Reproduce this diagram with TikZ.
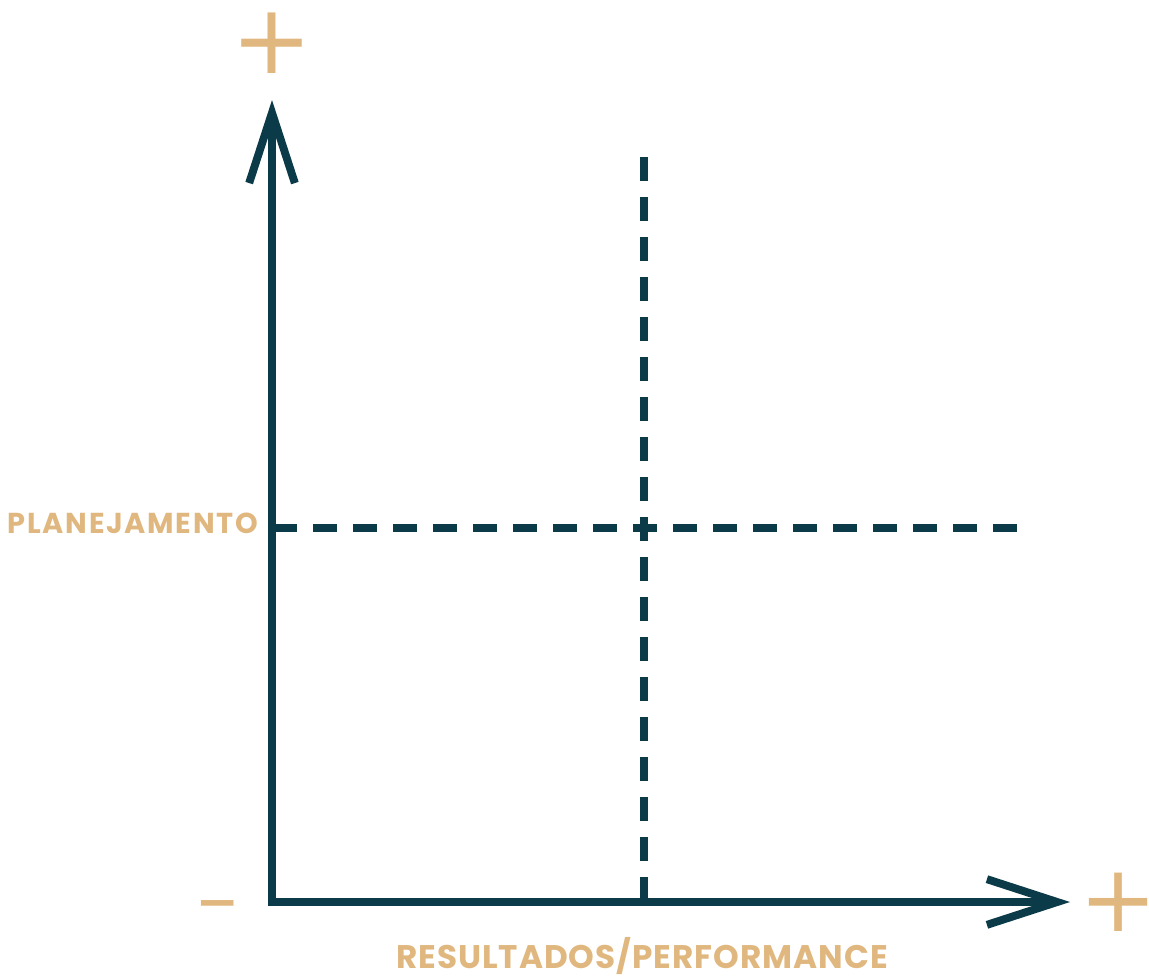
\documentclass[tikz,border=0pt]{standalone}
\usepackage{fontspec}
\setmainfont{Poppins}
\newfontfamily\signfont{DejaVu Sans}
\usetikzlibrary{arrows.meta}
\definecolor{c0b3a48}{RGB}{11,58,72}
\definecolor{ce0b77e}{RGB}{224,183,126}
\tikzset{every path/.style={draw,line width=4.5pt,color=c0b3a48}}
\tikzset{axistip/.tip={Straight Barb[length=40pt,width=26pt,line join=miter,line cap=butt]}}

\begin{document}
\begin{tikzpicture}[x=0.02cm,y=-0.02cm]
\path[draw=none,use as bounding box] (0,0) rectangle (1149,977);

\coordinate (o) at (272,902);
\coordinate (ytip) at (272,100);
\coordinate (xtip) at (1070,902);
\coordinate (vtop) at (644,157);
\coordinate (vbot) at (644,901);
\coordinate (hleft) at (273,528);
\coordinate (hright) at (1017,528);

\begin{scope}[every node/.style={inner sep=0pt,text=ce0b77e}]
\node[font=\signfont\fontsize{55}{55}\selectfont] (yplus) at (272,43) {+};
\node[font=\signfont\fontsize{53}{53}\selectfont] (xplus) at (1118,902) {+};
\node[font=\signfont\fontsize{46}{46}\selectfont] (xminus) at (218,913) {–};
\node[anchor=base east,font=\bfseries\fontsize{16.4}{16.4}\selectfont\addfontfeatures{LetterSpace=6}] (plan) at (262,533) {PLANEJAMENTO};
\node[anchor=base,font=\bfseries\fontsize{18.6}{18.6}\selectfont\addfontfeatures{LetterSpace=3}] (res) at (642,968) {RESULTADOS/PERFORMANCE};
\end{scope}

\path[axistip-axistip] (ytip) -- (o) -- (xtip);

\begin{scope}
\tikzset{every path/.style={draw,dash pattern=on 0.48cm off 0.32cm,line width=4.5pt,color=c0b3a48}}
\path (vtop) -- (vbot);
\path (hleft) -- (hright);
\end{scope}

\end{tikzpicture}
\end{document}
